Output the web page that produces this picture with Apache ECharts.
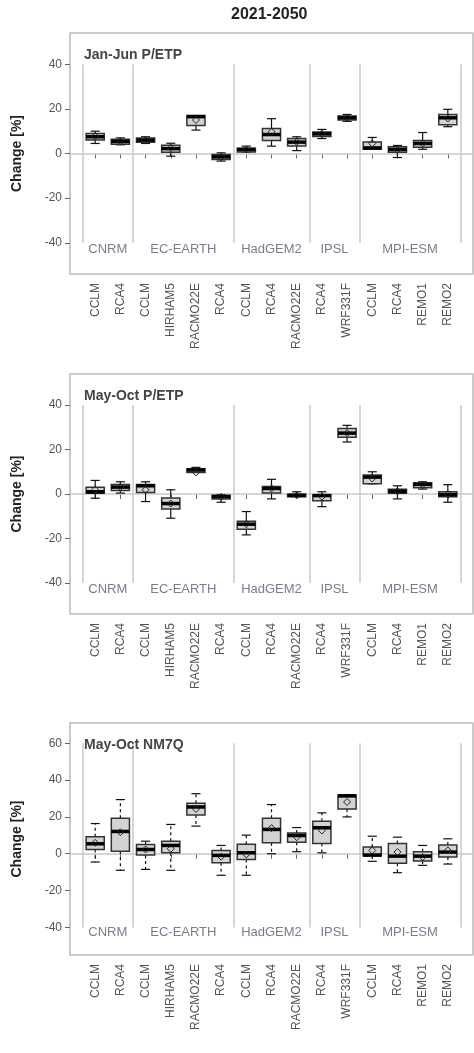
<!DOCTYPE html>
<html><head><meta charset="utf-8">
<script src="https://cdn.jsdelivr.net/npm/echarts@6/dist/echarts.min.js"></script>
<style>html,body{margin:0;background:#fff}#c{width:474px;height:1053px}</style>
</head><body><div id="c"></div>
<script>
const models = ["CCLM","RCA4","CCLM","HIRHAM5","RACMO22E","RCA4","CCLM","RCA4","RACMO22E","RCA4","WRF331F","CCLM","RCA4","REMO1","REMO2"];
const groups = ["CNRM","EC-EARTH","HadGEM2","IPSL","MPI-ESM"];
const groupCenters = [1.5, 4.5, 8, 10.5, 13.5];
const separators = [0.5, 2.5, 6.5, 9.5, 11.5, 15.5];
const panelTitles = ["Jan-Jun P/ETP", "May-Oct P/ETP", "May-Oct NM7Q"];

// [min, q1, median, q3, max, mean]
const janJunPetp = [
  [4.5,6,7.5,9,10,7.8],[3.9,4.2,5.4,6.4,7,5.4],[4.5,5,6,6.9,7.5,5.8],[-1.2,0.6,2.2,3.7,4.6,2.4],
  [10.5,12.6,16.5,17,17,15],[-3.4,-2.7,-1.5,-0.5,0.3,-1.6],[0.7,0.7,1.8,2.4,3.3,1.8],[3.3,5.8,8.5,11.2,15.6,9.7],
  [1.3,3.4,5.1,6.7,7.5,5.2],[6.7,7.6,8.8,9.6,10.8,8.8],[14.4,15,16,16.8,17.5,16],[1.9,1.9,2.5,5.2,7.2,4.5],
  [-1.8,0.6,1.8,3,3.6,1.6],[1.9,2.8,4.5,5.8,9.4,4.5],[12,12.9,16,17.5,19.8,15.7]
];
const mayOctPetp = [
  [-1.9,0.3,1,3,6.1,1.9],[0.4,1.6,3.1,4.3,5.5,3.1],[-3.4,0.7,3.7,4.3,5.5,1.9],[-10.9,-6.7,-4.3,-1.8,1.9,-4.3],
  [9.7,9.7,10.8,11.4,12,9.7],[-3.7,-2.2,-1.2,-0.6,-0.3,-1.3],[-18.4,-15.9,-13.6,-12.3,-7.9,-13.6],[-2.2,0.4,2.5,3.4,6.6,2.5],
  [-1.2,-1.2,-0.6,-0.1,1,-0.6],[-5.7,-3,-0.7,-0.3,1,-1.2],[23.4,25.5,27.4,29.5,30.9,27.4],[4.6,4.6,7.6,8.5,10,7],
  [-2.2,0.3,1.2,2.1,3.7,1.2],[2.2,2.8,4.3,5.1,5.5,4.3],[-3.7,-1.2,-0.3,1,4.2,0]
];
const mayOctNm7q = [
  [-4.5,2.3,5.4,9.2,16.4,5.9],[-9,1.4,12.1,19.3,29.4,11.7],[-8.5,-0.7,2.3,5,6.8,2.3],[-9,0.5,4.5,6.8,15.9,2.7],
  [15,21.1,25.4,27.4,32.6,24.3],[-11.7,-4.9,-0.9,1.8,4.5,-1.6],[-11.7,-3.1,0.5,5.2,10.1,-0.4],[0,5.9,13.2,19.3,26.7,13.9],
  [1.1,6.3,9.9,11.2,14.2,9],[0.5,5.6,14.1,17.7,22.2,12.6],[20,24.3,31.4,31.9,32,28.1],[-4.1,-1.3,-0.7,3.6,9.5,1.8],
  [-10.3,-5.2,-1.3,5.6,9,0.9],[-6.3,-4,-1.3,1.1,4.5,-1.8],[-5.6,-1.8,0.9,4.7,8.1,1.8]
];
const panelData = [janJunPetp, mayOctPetp, mayOctNm7q];
const yRanges = [[-54,54],[-54,54],[-55,71]];
const yTicks = [[-40,-20,0,20,40],[-40,-20,0,20,40],[-40,-20,0,20,40,60]];
const sepTop = [40, 40, 60];

const grids = [
  { left: 70, right: 1, top: 33, height: 241 },
  { left: 70, right: 1, top: 374, height: 240 },
  { left: 70, right: 1, top: 723, height: 232 }
];

const gray = "#666";
const xAxes = [], yAxes = [], series = [], titles = [];
titles.push({ text: "2021-2050", left: 226, top: 2, textStyle: { fontSize: 16, fontWeight: "bold", color: "#222", fontFamily: "Liberation Sans" } });

grids.forEach((g, i) => {
  titles.push({ text: panelTitles[i], left: 79, top: g.top + 10, textStyle: { fontSize: 14, fontWeight: "bold", color: "#444", fontFamily: "Liberation Sans" } });
  xAxes.push({
    gridIndex: i, type: "value", min: 0, max: 16, interval: 1,
    axisLine: { show: false }, splitLine: { show: false },
    axisTick: { show: true, customValues: models.map((_, k) => k + 1), length: 5, lineStyle: { color: gray } },
    axisLabel: { customValues: models.map((_, k) => k + 1), rotate: 90, margin: 9, fontSize: 12, color: "#555",
      fontFamily: "Liberation Sans", formatter: (v) => models[v - 1] || "" }
  });
  yAxes.push({
    gridIndex: i, type: "value", min: yRanges[i][0], max: yRanges[i][1],
    name: "Change [%]", nameLocation: "middle", nameGap: 46,
    nameTextStyle: { fontSize: 14, fontWeight: "bold", color: "#222", fontFamily: "Liberation Sans" },
    axisLine: { show: false }, splitLine: { show: false },
    axisTick: { show: true, customValues: yTicks[i], length: 5, lineStyle: { color: gray } },
    axisLabel: { customValues: yTicks[i], margin: 8, fontSize: 12, color: "#555", fontFamily: "Liberation Sans" }
  });
  const dashed = i === 2;
  series.push({
    type: "custom", xAxisIndex: i, yAxisIndex: i, z: 5,
    data: panelData[i].map((d, k) => [k + 1, ...d]),
    renderItem: (params, api) => {
      const x = api.value(0);
      const p = (v) => api.coord([x, v]);
      const hw = api.size([0.36, 0])[0];
      const cw = api.size([0.18, 0])[0];
      const [mn, q1, md, q3, mx, mean] = [1,2,3,4,5,6].map((j) => api.value(j));
      const cx = p(0)[0];
      const yMin = p(mn)[1], yQ1 = p(q1)[1], yMd = p(md)[1], yQ3 = p(q3)[1], yMax = p(mx)[1], yMean = p(mean)[1];
      const ws = { stroke: "#111", lineWidth: 1.2, lineDash: dashed ? [3, 3] : null };
      const cs = { stroke: "#111", lineWidth: 1.2 };
      return { type: "group", children: [
        { type: "line", shape: { x1: cx, y1: yQ3, x2: cx, y2: yMax }, style: ws },
        { type: "line", shape: { x1: cx, y1: yQ1, x2: cx, y2: yMin }, style: ws },
        { type: "line", shape: { x1: cx - cw, y1: yMax, x2: cx + cw, y2: yMax }, style: cs },
        { type: "line", shape: { x1: cx - cw, y1: yMin, x2: cx + cw, y2: yMin }, style: cs },
        { type: "rect", shape: { x: cx - hw, y: yQ3, width: 2 * hw, height: Math.max(yQ1 - yQ3, 1) },
          style: { fill: "#d3d3d3", stroke: "#333", lineWidth: 1.5 } },
        { type: "line", shape: { x1: cx - hw, y1: yMd, x2: cx + hw, y2: yMd }, style: { stroke: "#000", lineWidth: 3.5 } },
        { type: "polygon", shape: { points: [[cx, yMean - 3.5], [cx + 3.5, yMean], [cx, yMean + 3.5], [cx - 3.5, yMean]] },
          style: { fill: "none", stroke: "#222", lineWidth: 1 } }
      ] };
    },
    markLine: {
      silent: true, symbol: "none", z: 1, label: { show: false },
      lineStyle: { color: "#c8c8c8", type: "solid", width: 1.5 },
      data: [
        [{ coord: [0, 0] }, { coord: [16, 0] }],
        ...separators.map((s) => [{ coord: [s, sepTop[i]] }, { coord: [s, -40] }])
      ]
    }
  });
  series.push({
    type: "scatter", xAxisIndex: i, yAxisIndex: i, symbolSize: 0, silent: true,
    data: groups.map((gname, k) => ({ value: [groupCenters[k], -43], name: gname })),
    label: { show: true, position: "inside", formatter: (p) => p.name, fontSize: 13, color: "#5a5a70", fontFamily: "Liberation Sans",
      backgroundColor: "#fff", padding: [0, 2] }
  });
});

const chart = echarts.init(document.getElementById("c"));
chart.setOption({
  animation: false,
  title: titles,
  grid: grids.map((g) => ({ ...g, show: true, borderColor: "#bbb", borderWidth: 1.5 })),
  xAxis: xAxes, yAxis: yAxes, series
});
</script></body></html>
